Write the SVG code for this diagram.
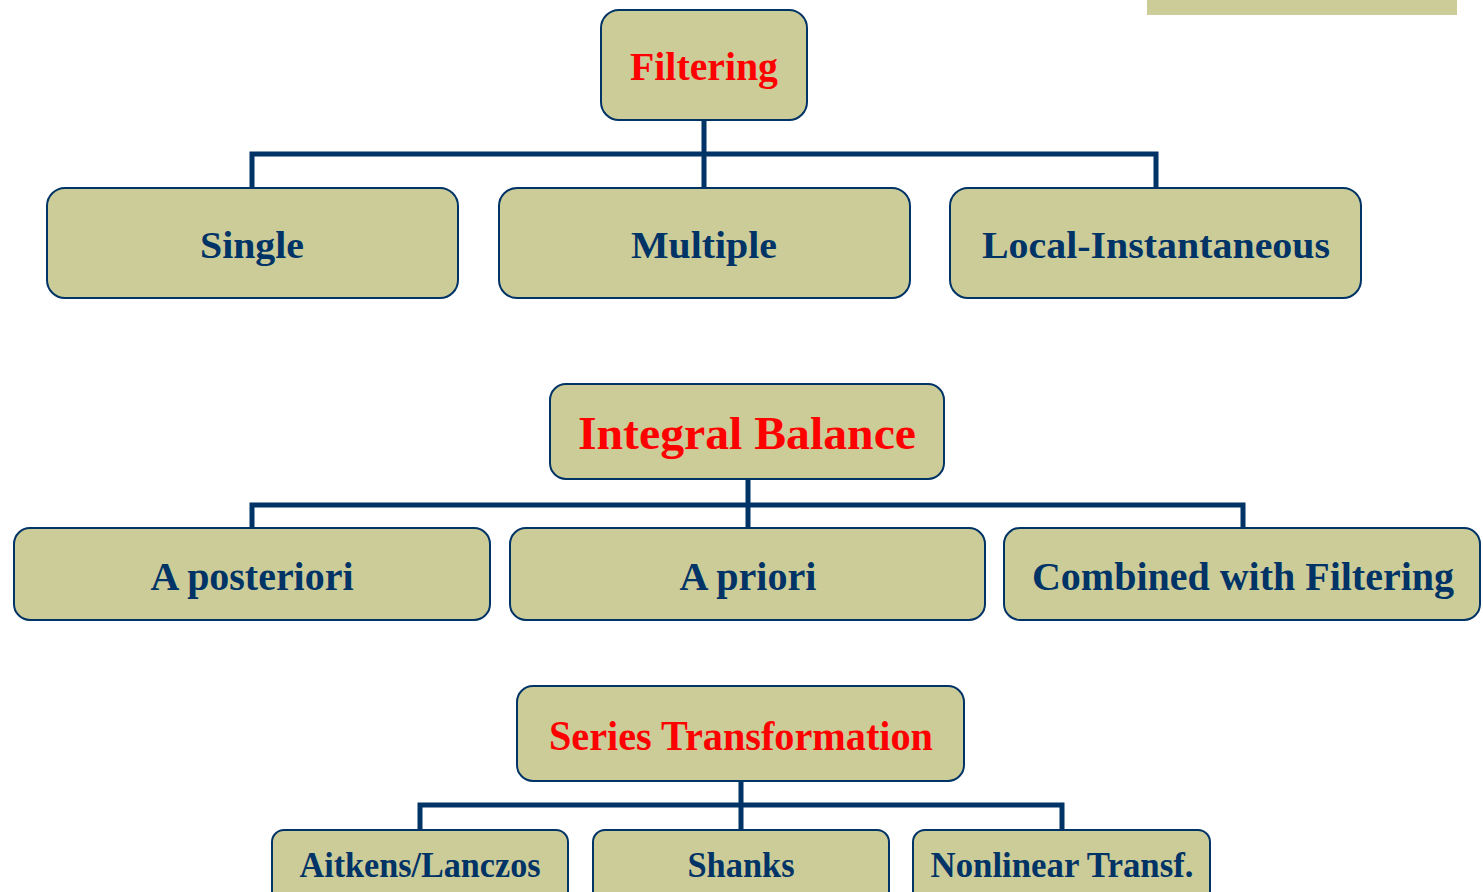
<svg xmlns="http://www.w3.org/2000/svg" width="1483" height="892" viewBox="0 0 1483 892">
  <style>
    .box { fill: #CCCC99; stroke: #003366; stroke-width: 2; }
    .lbl { font-family: "Liberation Serif", "Times New Roman", serif; font-weight: bold; text-anchor: middle; fill: #003366; }
    .head { fill: #FF0000; }
    .conn { fill: none; stroke: #003366; stroke-width: 5; }
  </style>
  <rect width="1483" height="892" fill="#FFFFFF"/>
  <rect x="1147" y="0" width="310" height="15" fill="#CCCC99"/>

  <g id="connectors">
    <path class="conn" d="M704 120 V188 M252 188 V154 H1156 V188"/>
    <path class="conn" d="M748 479 V528 M252 528 V505 H1243 V528"/>
    <path class="conn" d="M741 781 V830 M420 830 V805 H1062 V830"/>
  </g>

  <g id="filtering">
    <rect class="box" x="601" y="10" width="206" height="110" rx="18"/>
    <text class="lbl head" x="704" y="80" font-size="40" textLength="148" lengthAdjust="spacingAndGlyphs">Filtering</text>
  </g>
  <g id="single">
    <rect class="box" x="47" y="188" width="411" height="110" rx="18"/>
    <text class="lbl" x="252" y="258" font-size="37" textLength="104" lengthAdjust="spacingAndGlyphs">Single</text>
  </g>
  <g id="multiple">
    <rect class="box" x="499" y="188" width="411" height="110" rx="18"/>
    <text class="lbl" x="704" y="258" font-size="37" textLength="146" lengthAdjust="spacingAndGlyphs">Multiple</text>
  </g>
  <g id="local-instantaneous">
    <rect class="box" x="950" y="188" width="411" height="110" rx="18"/>
    <text class="lbl" x="1156" y="258" font-size="37" textLength="348" lengthAdjust="spacingAndGlyphs">Local-Instantaneous</text>
  </g>

  <g id="integral-balance">
    <rect class="box" x="550" y="384" width="394" height="95" rx="16"/>
    <text class="lbl head" x="747" y="449" font-size="46" textLength="338" lengthAdjust="spacingAndGlyphs">Integral Balance</text>
  </g>
  <g id="a-posteriori">
    <rect class="box" x="14" y="528" width="476" height="92" rx="16"/>
    <text class="lbl" x="252" y="590" font-size="39" textLength="203" lengthAdjust="spacingAndGlyphs">A posteriori</text>
  </g>
  <g id="a-priori">
    <rect class="box" x="510" y="528" width="475" height="92" rx="16"/>
    <text class="lbl" x="748" y="590" font-size="39" textLength="137" lengthAdjust="spacingAndGlyphs">A priori</text>
  </g>
  <g id="combined-with-filtering">
    <rect class="box" x="1004" y="528" width="476" height="92" rx="16"/>
    <text class="lbl" x="1243" y="590" font-size="39" textLength="422" lengthAdjust="spacingAndGlyphs">Combined with Filtering</text>
  </g>

  <g id="series-transformation">
    <rect class="box" x="517" y="686" width="447" height="95" rx="16"/>
    <text class="lbl head" x="741" y="750" font-size="42" textLength="384" lengthAdjust="spacingAndGlyphs">Series Transformation</text>
  </g>
  <g id="aitkens-lanczos">
    <rect class="box" x="272" y="830" width="296" height="80" rx="12"/>
    <text class="lbl" x="420" y="877" font-size="35" textLength="241" lengthAdjust="spacingAndGlyphs">Aitkens/Lanczos</text>
  </g>
  <g id="shanks">
    <rect class="box" x="593" y="830" width="296" height="80" rx="12"/>
    <text class="lbl" x="741" y="877" font-size="35" textLength="107" lengthAdjust="spacingAndGlyphs">Shanks</text>
  </g>
  <g id="nonlinear-transf">
    <rect class="box" x="913" y="830" width="297" height="80" rx="12"/>
    <text class="lbl" x="1062" y="877" font-size="35" textLength="263" lengthAdjust="spacingAndGlyphs">Nonlinear Transf.</text>
  </g>
</svg>
